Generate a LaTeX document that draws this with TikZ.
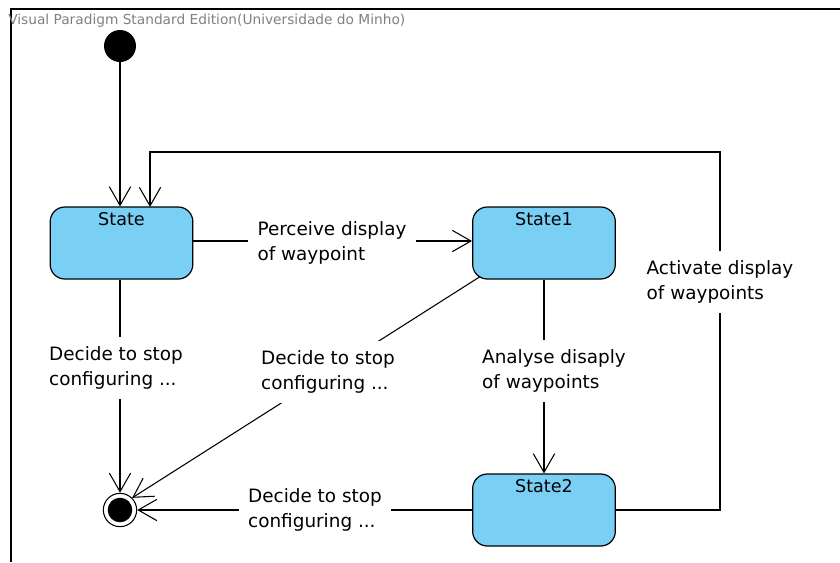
\documentclass[tikz,border=0pt]{standalone}
\usepackage{fontspec}
\setmainfont{DejaVu Sans}
\usetikzlibrary{arrows.meta}
\definecolor{statefill}{RGB}{122,207,245}
\tikzset{
  statebox/.style={draw, line width=0.9pt, fill=statefill, rounded corners=11pt,
    minimum width=107pt, minimum height=54pt, inner sep=0pt},
  statename/.style={anchor=north, inner sep=4pt, font=\fontsize{13.2}{15}\selectfont},
  trans/.style={line width=0.8pt, -{Straight Barb[length=14pt,width=16pt,line width=0.8pt]}},
  translabel/.style={fill=white, align=left, inner sep=7pt, font=\fontsize{13.8}{18.8}\selectfont},
}
\begin{document}
\begin{tikzpicture}[x=0.75pt, y=-0.75pt]
  % page and frame
  \useasboundingbox (0,0) rectangle (840,562);
  \draw[line width=1.2pt] (10,9) -- (840,9);
  \draw[line width=0.9pt] (11,9) -- (11,562);
  \node[anchor=west, inner sep=0pt, text=gray, font=\fontsize{10.3}{12}\selectfont]
    (title) at (8,21) {Visual Paradigm Standard Edition(Universidade do Minho)};
  % coordinates
  \coordinate (loop-top-right) at (720,152);
  \coordinate (loop-top-left) at (150,152);
  \coordinate (loop-end) at (150,207);
  % initial and final
  \node[circle, fill=black, minimum size=24pt, inner sep=0pt] (start) at (120,46) {};
  \node[circle, draw, line width=0.8pt, fill=white, minimum size=25pt, inner sep=0pt,
    path picture={\fill[black] (path picture bounding box.center) circle (9.2pt);}]
    (final) at (120,510) {};
  % states
  \node[statebox, label={[statename]north:State}] (state) at (121.5,243) {};
  \node[statebox, label={[statename]north:State1}] (state1) at (544,243) {};
  \node[statebox, label={[statename]north:State2}] (state2) at (544,510) {};
  % transitions
  \draw[trans] (start) -- (state.north -| start);
  \draw[trans] (state.east |- 0,241) -- (state1.west |- 0,241);
  \draw[trans] (state.south -| final) -- (final);
  \draw[trans] (state1.south west) ++(8,-3) -- (final.north east);
  \draw[trans] (state1) -- (state2);
  \draw[trans] (state2.west) -- (final);
  \draw[trans] (state2.east) -| (loop-top-right) -- (loop-top-left) -- (loop-end);
  % labels
  \node[translabel] (lab-perceive) at (332,243) {Perceive display\\of waypoint};
  \node[translabel] (lab-stop) at (116,368) {Decide to stop\\configuring ...};
  \node[translabel] (lab-stop1) at (328,372) {Decide to stop\\configuring ...};
  \node[translabel] (lab-analyse) at (554,371) {Analyse disaply\\of waypoints};
  \node[translabel] (lab-stop2) at (315,510) {Decide to stop\\configuring ...};
  \node[translabel] (lab-activate) at (720,282) {Activate display\\of waypoints};
\end{tikzpicture}
\end{document}
